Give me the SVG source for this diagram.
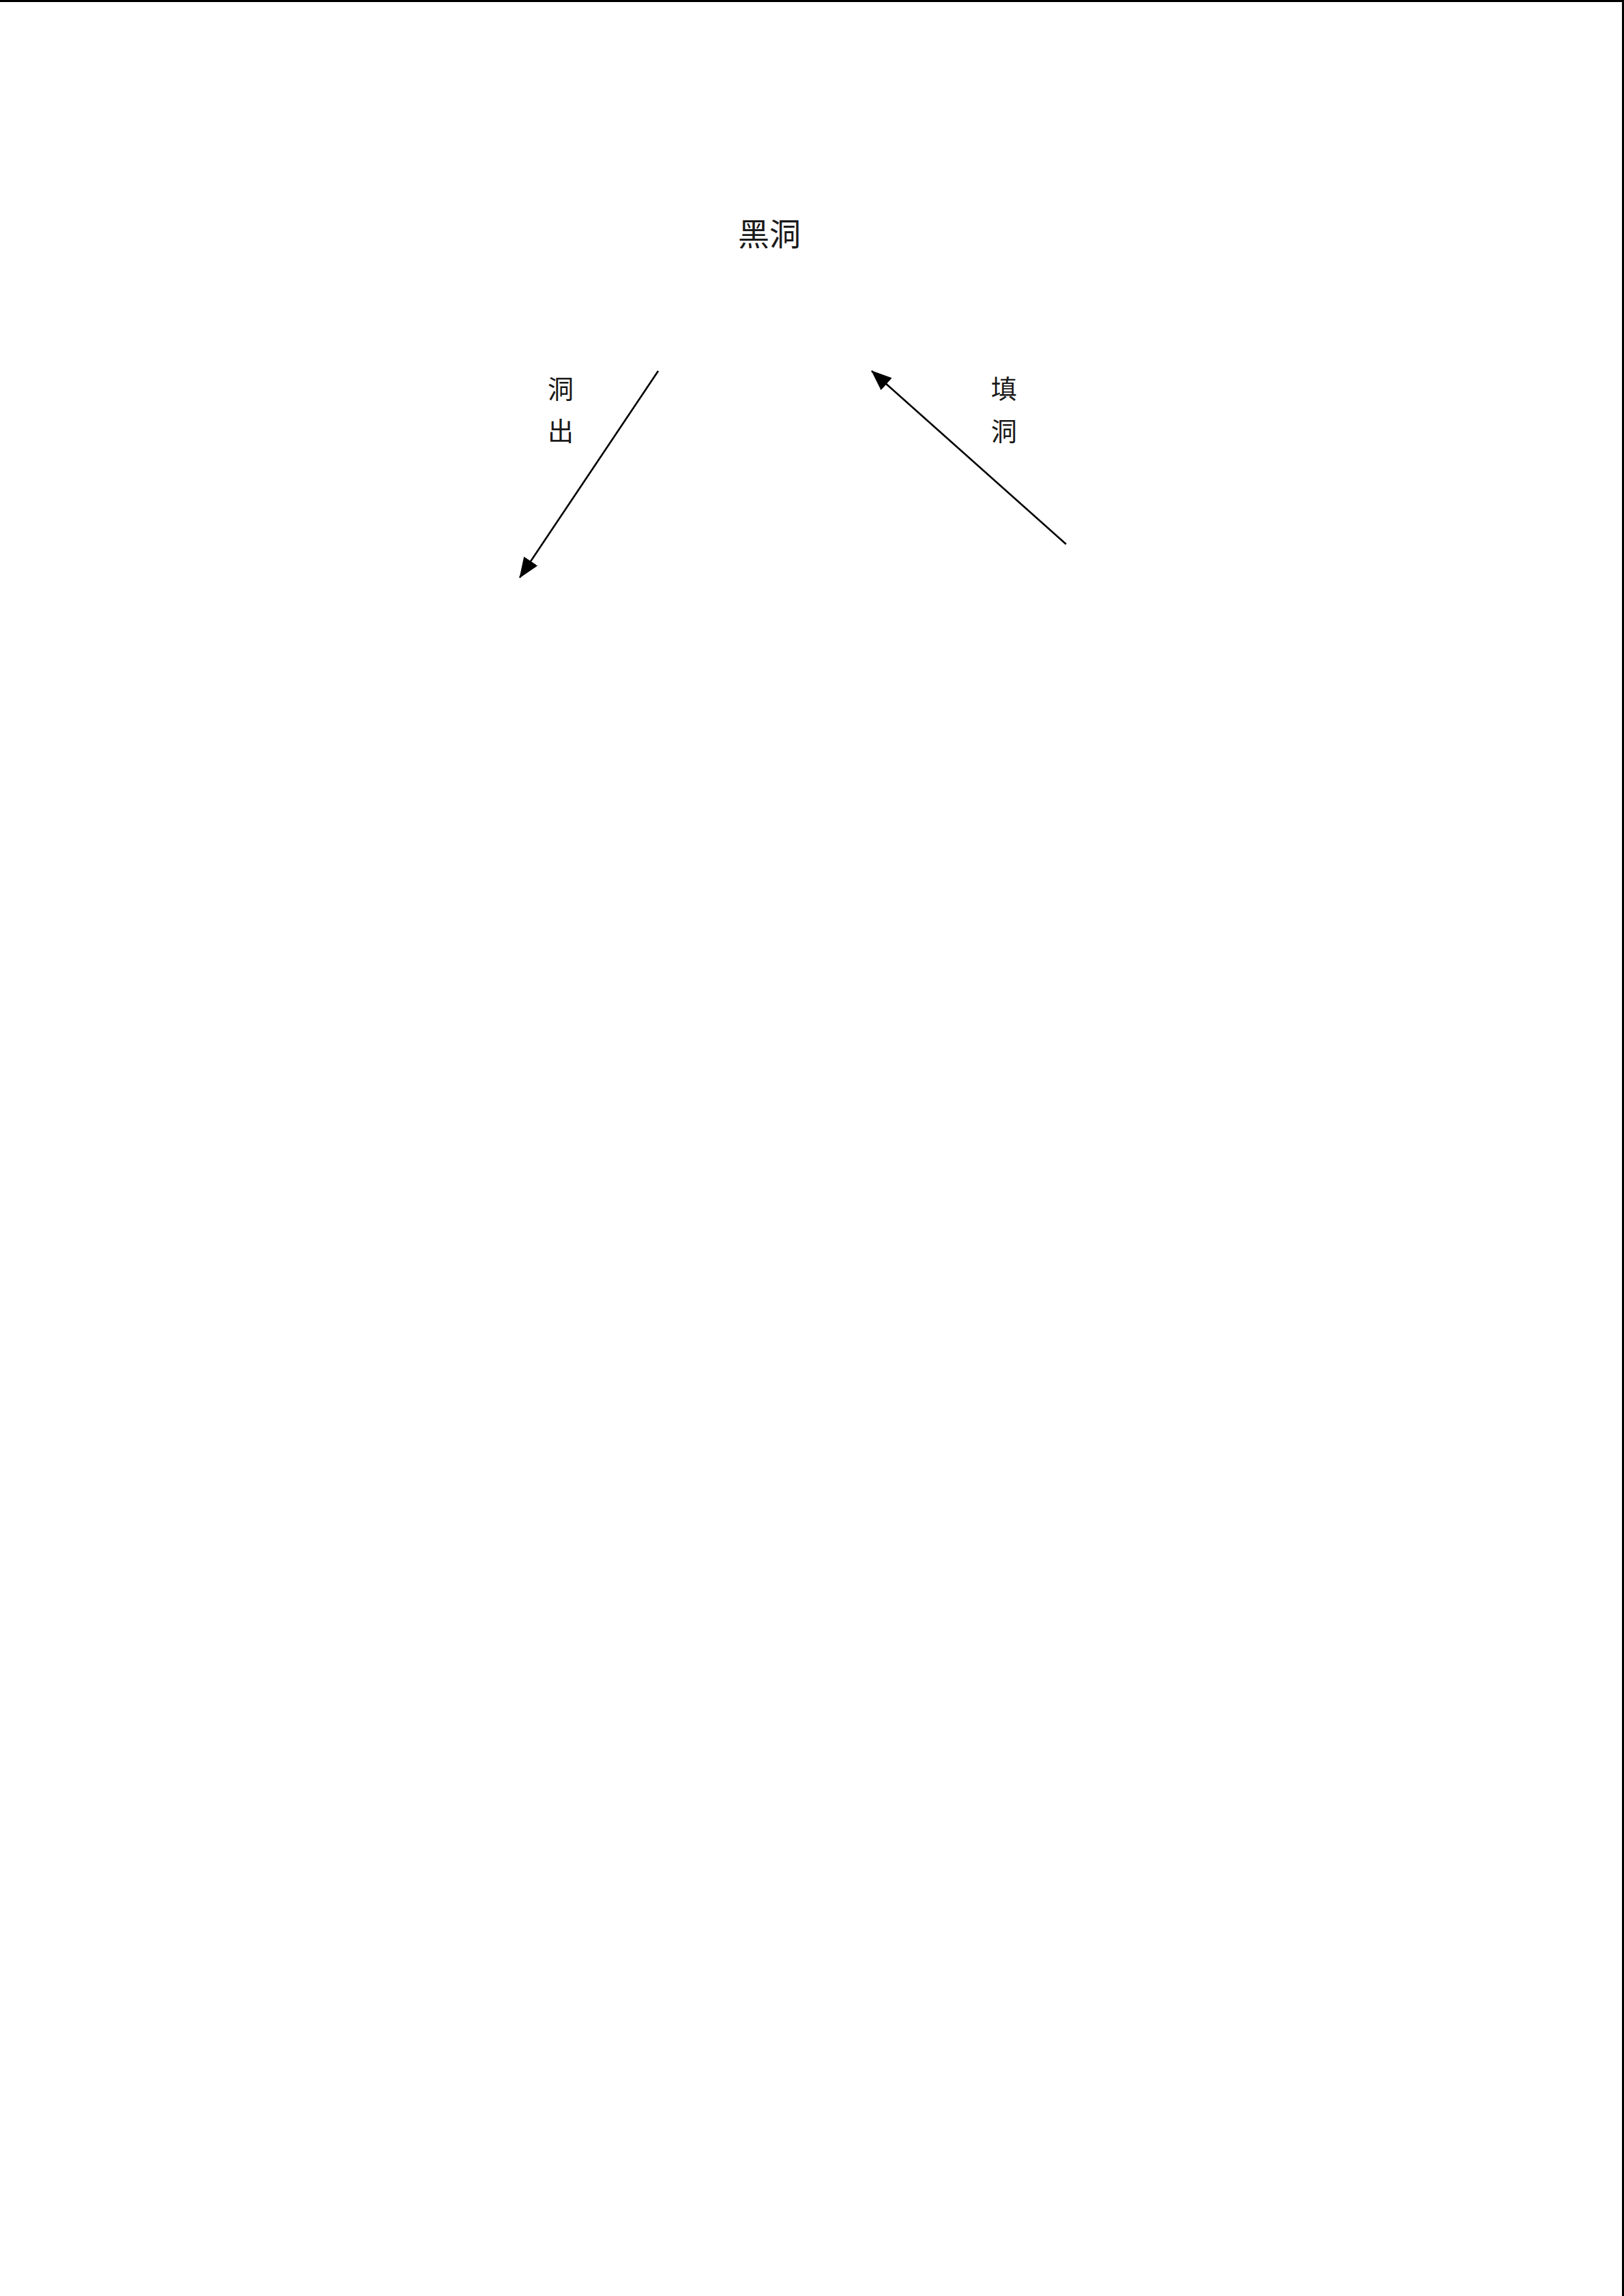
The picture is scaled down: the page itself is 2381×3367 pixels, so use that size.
<svg xmlns="http://www.w3.org/2000/svg" width="2381" height="3367" viewBox="0 0 2381 3367">
  <style>
    .lbl { font-family: "Noto Sans CJK SC", "Noto Sans CJK TC", sans-serif; fill: #1a1a1a; text-anchor: middle; }
    .big { font-size: 46px; }
    .small { font-size: 38px; }
    .conn { stroke: #000; stroke-width: 2.6; fill: none; }
    .frame { stroke: #000; stroke-width: 3; }
  </style>
  <defs>
    <marker id="arrow" markerUnits="userSpaceOnUse" markerWidth="30" markerHeight="24" viewBox="0 0 30 24" refX="29" refY="12" orient="auto">
      <path d="M0,0 L30,12 L0,24 Z" fill="#000"/>
    </marker>
  </defs>
  <rect x="0" y="0" width="2381" height="3367" fill="#fff"/>
  <g id="frame">
    <line class="frame" x1="0" y1="1.5" x2="2381" y2="1.5"/>
    <line class="frame" x1="2379.5" y1="0" x2="2379.5" y2="3367"/>
  </g>
  <g id="node-blackhole">
    <text class="lbl big" x="1128" y="360">黑洞</text>
  </g>
  <g id="label-out">
    <text class="lbl small" x="822" y="584">洞</text>
    <text class="lbl small" x="822" y="646">出</text>
  </g>
  <g id="label-fill">
    <text class="lbl small" x="1472" y="584">填</text>
    <text class="lbl small" x="1472" y="646">洞</text>
  </g>
  <g id="connectors">
    <line class="conn" x1="965" y1="544" x2="762" y2="847" marker-end="url(#arrow)"/>
    <line class="conn" x1="1563" y1="798" x2="1278" y2="544" marker-end="url(#arrow)"/>
  </g>
</svg>
